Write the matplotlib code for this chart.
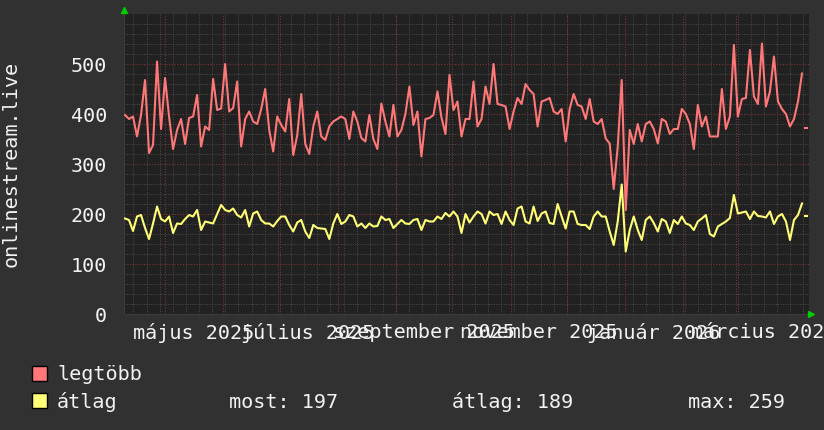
#!/usr/bin/env python
# -*- coding: utf-8 -*-
import sys
import numpy as np
import matplotlib
matplotlib.use("Agg")
import matplotlib.pyplot as plt
from matplotlib.patches import Rectangle

# Data (one sample about every two days)
start = np.datetime64("2025-04-09")
span_days = 365
samples_per_span = 171

legtobb = [
    398, 390, 395, 355, 398, 468, 322, 338, 505, 370, 472, 395, 330, 368, 390, 340,
    392, 395, 438, 335, 375, 368, 470, 408, 411, 500, 405, 412, 465, 335, 390, 405,
    385, 380, 410, 450, 368, 325, 395, 378, 365, 430, 318, 358, 440, 340, 320, 375,
    405, 355, 348, 375, 385, 390, 395, 390, 350, 405, 385, 352, 345, 398, 350, 330,
    421, 385, 355, 418, 355, 368, 400, 455, 378, 405, 315, 390, 392, 398, 445, 393,
    360, 478, 408, 425, 355, 390, 390, 465, 375, 390, 455, 420, 500, 420, 418, 415,
    370, 405, 432, 420, 460, 448, 440, 375, 425, 428, 432, 405, 400, 410, 345, 410,
    440, 418, 415, 390, 430, 385, 380, 390, 351, 341, 250, 335, 468, 208, 368, 340,
    380, 345, 380, 385, 370, 341, 390, 385, 360, 370, 370, 410, 400, 380, 330, 418,
    375, 395, 355, 355, 355, 450, 370, 395, 538, 395, 430, 432, 528, 435, 420, 541,
    415, 445, 515, 425, 410, 400, 375, 390, 425, 481,
]
atlag = [
    191, 188, 166, 195, 198, 172, 150, 181, 215, 190, 185, 195, 162, 181, 180, 190,
    198, 195, 208, 168, 185, 183, 181, 200, 218, 208, 205, 211, 198, 193, 208, 175,
    201, 205, 188, 181, 181, 175, 186, 195, 195, 178, 165, 183, 188, 165, 152, 178,
    172, 171, 170, 150, 181, 200, 180, 185, 198, 195, 175, 181, 172, 181, 175, 176,
    195, 188, 190, 172, 180, 188, 181, 180, 188, 190, 168, 188, 185, 185, 195, 190,
    202, 195, 205, 195, 162, 200, 183, 195, 205, 200, 181, 205, 198, 200, 180, 205,
    188, 178, 211, 215, 185, 181, 215, 186, 201, 205, 182, 180, 220, 195, 171, 205,
    205, 180, 178, 178, 170, 195, 205, 195, 195, 165, 138, 185, 259, 125, 168, 195,
    168, 148, 188, 195, 182, 165, 190, 185, 162, 188, 180, 195, 181, 178, 168, 185,
    191, 198, 160, 155, 175, 180, 185, 192, 238, 201, 203, 205, 190, 205, 196, 195,
    193, 205, 180, 195, 200, 185, 148, 188, 198, 221,
]
last_legtobb = 372
last_atlag = 197

atlag_most = 197
atlag_atlag = 189
atlag_max = 259

month_labels = ["május 2025", "július 2025", "szeptember 2025",
                "november 2025", "január 2026", "március 2026"]
label_dates = ["2025-05-16", "2025-07-16", "2025-09-16",
               "2025-11-16", "2026-01-16", "2026-03-16"]

W, H = 824, 430
BACK = "#313131"
CANVAS = "#212121"
RED = "#ff7777"
YELLOW = "#ffff77"
TEXT = "#f2f2f2"
MONO = "DejaVu Sans Mono"


def fx(x):
  return x / W


def fy(y):
  return 1 - y / H


def main():
  fig = plt.figure(figsize=(W / 100, H / 100), dpi=100, facecolor=BACK)
  ax = fig.add_axes([fx(124), fy(314), 685 / W, 300 / H], facecolor=CANVAS)

  step = span_days / samples_per_span
  x = (np.arange(len(legtobb)) + 0.25) * step
  x_last = (len(legtobb) + 0.25) * step

  # grid
  for v in range(20, 600, 20):
    if v % 100:
      ax.axhline(v, color="#4c4c4c", lw=0.7, ls=(0, (1, 1.5)), zorder=1)
  mondays = np.arange(np.datetime64("2025-04-14"), start + span_days, 7)
  for d in (mondays - start).astype(int):
    ax.axvline(d, color="#4c4c4c", lw=0.7, ls=(0, (1, 1.5)), zorder=1)
  for v in range(100, 600, 100):
    ax.axhline(v, color="#7a3535", lw=0.8, ls=(0, (1, 1.5)), zorder=2)
  months = np.arange(np.datetime64("2025-05"), np.datetime64("2026-04"),
                     dtype="datetime64[M]").astype("datetime64[D]")
  for d in (months - start).astype(int):
    ax.axvline(d, color="#7a3535", lw=0.8, ls=(0, (1, 1.5)), zorder=2)

  # lines
  ax.plot(x, legtobb, color=RED, lw=1.5, zorder=4)
  ax.plot(x, atlag, color=YELLOW, lw=1.5, zorder=5)
  ax.plot([x_last], [last_legtobb], marker="_", ms=3, mew=1.5, color=RED, zorder=4)
  ax.plot([x_last], [last_atlag], marker="_", ms=3, mew=1.5, color=YELLOW, zorder=5)

  ax.set_xlim(0, span_days)
  ax.set_ylim(0, 600)
  ax.set_yticks(range(0, 600, 100))
  ax.set_yticklabels([str(v) for v in range(0, 600, 100)], family=MONO, fontsize=14.5, color=TEXT)
  ax.tick_params(axis="y", length=0, pad=12)
  label_pos = (np.array(label_dates, dtype="datetime64[D]") - start).astype(int)
  ax.set_xticks(label_pos)
  ax.set_xticklabels(month_labels, family=MONO, fontsize=14.5, color=TEXT)
  ax.tick_params(axis="x", length=0, pad=6.5)
  for s in ["top", "right"]:
    ax.spines[s].set_visible(False)
  for s in ["left", "bottom"]:
    ax.spines[s].set_color("#3c3c3c")

  # axis arrows
  fig.add_artist(plt.Line2D([fx(124.5)], [fy(10)], marker="^", ms=5, color="#00cc00",
                            transform=fig.transFigure))
  fig.add_artist(plt.Line2D([fx(811)], [fy(314)], marker=">", ms=5, color="#00cc00",
                            transform=fig.transFigure))

  fig.text(fx(11), fy(164), "onlinestream.live", rotation=90, ha="center", va="center",
           family=MONO, fontsize=14.5, color=TEXT)

  # legend
  for y0, col in [(366, RED), (393, YELLOW)]:
    fig.add_artist(Rectangle((fx(32), fy(y0 + 15)), 15 / W, 15 / H, transform=fig.transFigure,
                             facecolor=col, edgecolor="black", lw=1))
  fig.text(fx(57), fy(380), "legtöbb", va="baseline", family=MONO, fontsize=14.5, color=TEXT)
  fig.text(fx(57), fy(408), "átlag", va="baseline", family=MONO, fontsize=14.5, color=TEXT)
  fig.text(fx(229), fy(408), "most: %d" % atlag_most, va="baseline", family=MONO,
           fontsize=14.5, color=TEXT)
  fig.text(fx(452), fy(408), "átlag: %d" % atlag_atlag, va="baseline", family=MONO,
           fontsize=14.5, color=TEXT)
  fig.text(fx(688), fy(408), "max: %d" % atlag_max, va="baseline", family=MONO,
           fontsize=14.5, color=TEXT)

  fig.savefig("out.png", dpi=100, facecolor=BACK)


if __name__ == "__main__":
  sys.exit(main())
